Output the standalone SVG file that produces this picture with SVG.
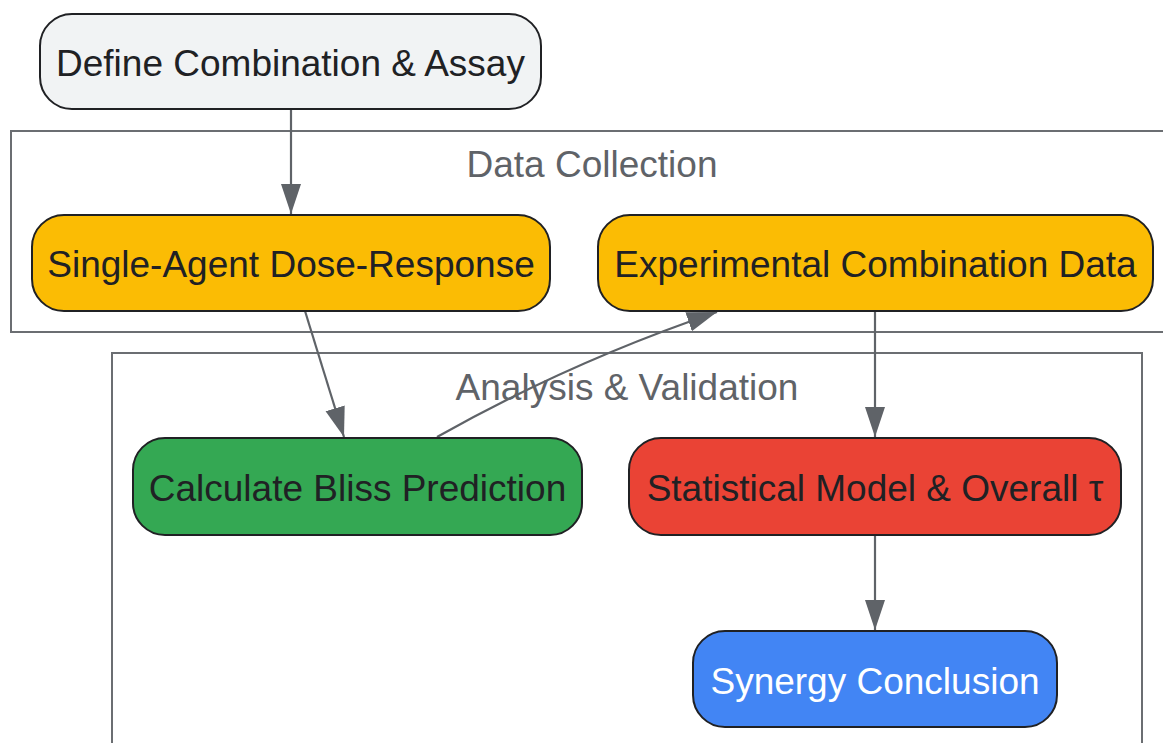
<svg xmlns="http://www.w3.org/2000/svg" width="1163" height="743" viewBox="0 0 1163 743">
<style>
.cl{fill:#ffffff;stroke:#6b6e72;stroke-width:2}
.cll{font-family:"Liberation Sans",Arial,sans-serif;font-size:37px;fill:#5f6368;text-anchor:middle}
.n{stroke:#202124;stroke-width:2}
.t{font-family:"Liberation Sans",Arial,sans-serif;font-size:37px;fill:#202124;text-anchor:middle}
.e{fill:none;stroke:#5f6368;stroke-width:2.2}
</style>
<defs>
<marker id="ah" markerUnits="userSpaceOnUse" markerWidth="32" markerHeight="22" refX="30" refY="10" orient="auto">
<path d="M0,0 L30,10 L0,20 Z" fill="#5f6368"/>
</marker>
</defs>
<g id="cluster-data">
<rect class="cl" x="11" y="131" width="1175" height="201"/>
<text class="cll" x="592" y="177">Data Collection</text>
</g>
<g id="cluster-analysis">
<rect class="cl" x="112" y="353" width="1030" height="410"/>
<text class="cll" x="627" y="400">Analysis &amp; Validation</text>
</g>
<g id="edges">
<path class="e" d="M291,109 L291,214" marker-end="url(#ah)"/>
<path class="e" d="M305,311 L344,437" marker-end="url(#ah)"/>
<path class="e" d="M437,437 Q570,362 717,312" marker-end="url(#ah)"/>
<path class="e" d="M875,311 L875,437" marker-end="url(#ah)"/>
<path class="e" d="M875,535 L875,630" marker-end="url(#ah)"/>
</g>
<g id="define">
<rect class="n" x="40" y="14" width="501" height="95" rx="32" fill="#f1f3f4"/>
<text class="t" x="290.5" y="76">Define Combination &amp; Assay</text>
</g>
<g id="single">
<rect class="n" x="32" y="215" width="518" height="96" rx="32" fill="#fbbc04"/>
<text class="t" x="291" y="277">Single-Agent Dose-Response</text>
</g>
<g id="experimental">
<rect class="n" x="598" y="215" width="555" height="96" rx="32" fill="#fbbc04"/>
<text class="t" x="875.5" y="277">Experimental Combination Data</text>
</g>
<g id="bliss">
<rect class="n" x="133" y="438" width="449" height="97" rx="32" fill="#34a853"/>
<text class="t" x="357.5" y="501">Calculate Bliss Prediction</text>
</g>
<g id="statistical">
<rect class="n" x="629" y="438" width="492" height="97" rx="32" fill="#ea4335"/>
<text class="t" x="875" y="501">Statistical Model &amp; Overall τ</text>
</g>
<g id="synergy">
<rect class="n" x="693" y="631" width="364" height="96" rx="32" fill="#4285f4"/>
<text class="t" x="875" y="694" fill="#ffffff" style="fill:#ffffff">Synergy Conclusion</text>
</g>
</svg>
